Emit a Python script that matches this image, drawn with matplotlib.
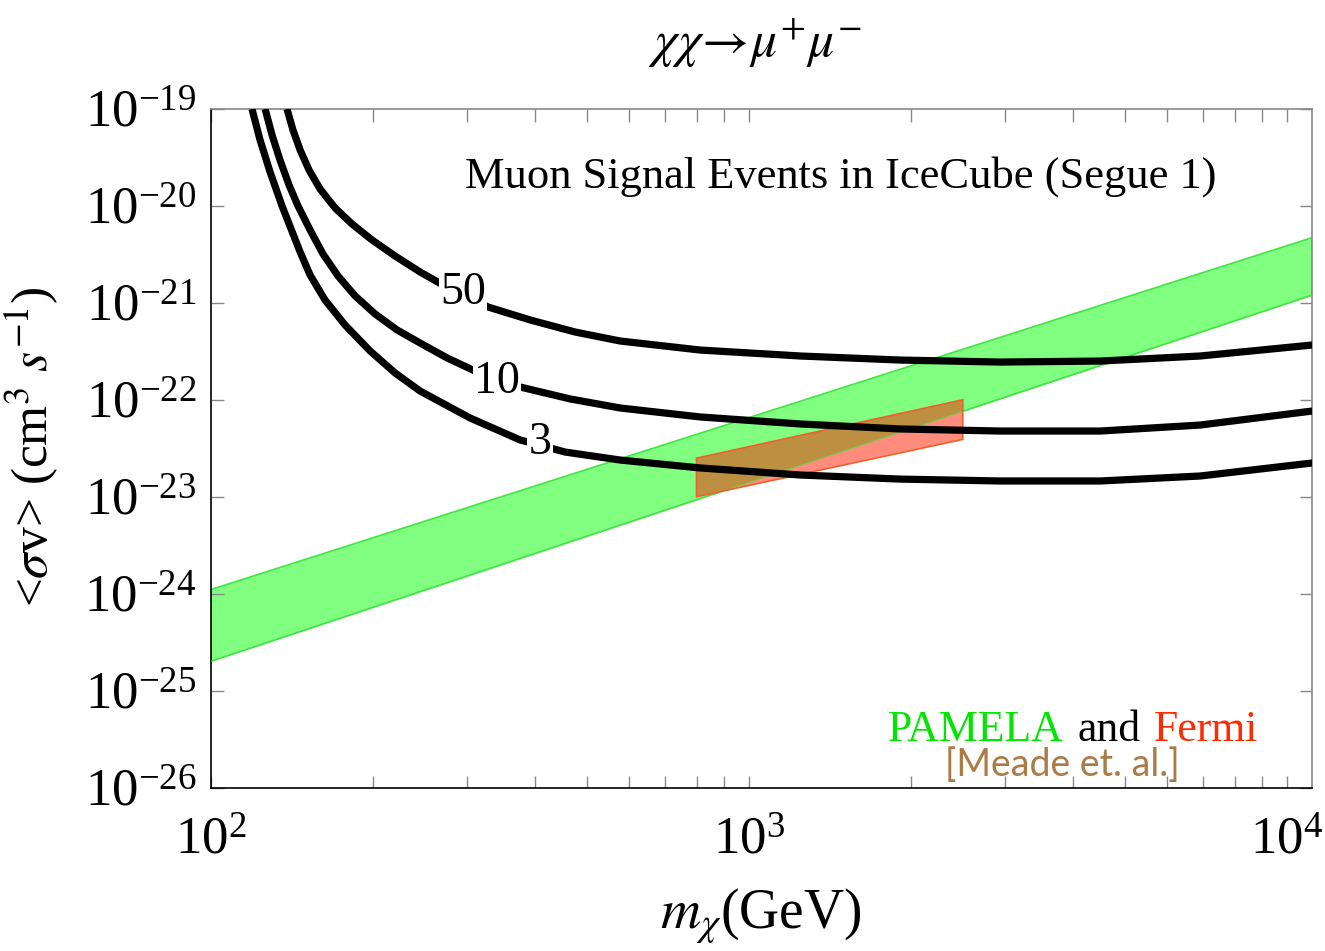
import numpy as np
import matplotlib.pyplot as plt
from matplotlib.offsetbox import TextArea, HPacker, AnchoredOffsetbox
from matplotlib.ticker import LogLocator, NullLocator, NullFormatter

plt.rcParams['font.family'] = ['Liberation Serif', 'DejaVu Serif']
plt.rcParams['mathtext.fontset'] = 'stix'

# PAMELA band (straight lines in log-log), edges at both ends of the x range
pamela_m = [100, 11140]
pamela_hi = [1.1e-24, 4.7e-21]
pamela_lo = [2.0e-25, 1.2e-21]

# Fermi region [Meade et al.]
fermi_m = [800, 2500]
fermi_hi = [2.5e-23, 1.0e-22]
fermi_lo = [1.0e-23, 3.9e-23]

# muon signal event contours
m_3 = [119.4, 123.6, 129.0, 135.8, 146.7, 153.1, 163.2, 177.8, 197.9, 220.3, 245.2,
       303.6, 376.1, 456.0, 577.0, 812.6, 1247, 1912, 2934, 4502, 6907, 11155]
sv_3 = [1e-19, 4.79e-20, 2.24e-20, 9.98e-21, 3.35e-21, 1.94e-21, 1.07e-21, 5.91e-22,
        3.19e-22, 1.89e-22, 1.23e-22, 6.49e-23, 3.85e-23, 2.89e-23, 2.39e-23, 1.98e-23,
        1.675e-23, 1.52e-23, 1.453e-23, 1.453e-23, 1.636e-23, 2.23e-23]

m_10 = [126.3, 130.1, 134.6, 139.9, 145.4, 153.1, 161.8, 172.6, 185.6, 202.2, 222.2,
        245.2, 275.2, 310.2, 376.1, 465.9, 577.0, 812.6, 1247, 1912, 2934, 4502, 6907,
        11155]
sv_10 = [1e-19, 5.39e-20, 2.98e-20, 1.644e-20, 9.98e-21, 5.65e-21, 3.19e-21, 1.89e-21,
         1.18e-21, 7.68e-22, 5.25e-22, 3.85e-22, 2.70e-22, 1.98e-22, 1.355e-22, 1.02e-22,
         8.23e-23, 6.65e-23, 5.63e-23, 5.0e-23, 4.76e-23, 4.76e-23, 5.49e-23, 7.66e-23]

m_50 = [138.7, 142.3, 146.7, 152.4, 159.8, 170.4, 183.2, 199.6, 220.3, 245.2, 278.7,
        328.0, 392.6, 476.0, 577.0, 812.6, 1247, 1912, 2934, 4502, 6907, 11155]
sv_50 = [1e-19, 6.07e-20, 3.78e-20, 2.35e-20, 1.495e-20, 9.52e-21, 6.51e-21, 4.45e-21,
         3.04e-21, 2.08e-21, 1.39e-21, 9.06e-22, 6.66e-22, 5.0e-22, 4.04e-22, 3.26e-22,
         2.83e-22, 2.57e-22, 2.45e-22, 2.51e-22, 2.83e-22, 3.675e-22]

curves = [(m_3, sv_3, '3', 409.8, 3.58e-23),
          (m_10, sv_10, '10', 340.8, 1.53e-22),
          (m_50, sv_50, '50', 294.6, 1.265e-21)]

# axis ticks
x_major = [1e2, 1e3, 1e4]
y_major = [1e-26, 1e-25, 1e-24, 1e-23, 1e-22, 1e-21, 1e-20, 1e-19]

GREEN_FILL = '#80FF80'
GREEN_EDGE = '#44E444'
RED_FILL = '#FF8C7C'
RED_EDGE = '#F0602C'
BROWN = '#BD8F41'

fig = plt.figure(figsize=(13.25, 9.51), dpi=100)
ax = fig.add_axes([0.1589, 0.1719, 0.8313, 0.7135])
ax.set_xscale('log')
ax.set_yscale('log')

# PAMELA band
px = np.concatenate([pamela_m, pamela_m[::-1]])
py = np.concatenate([pamela_lo, pamela_hi[::-1]])
green = ax.fill(px, py, facecolor=GREEN_FILL, edgecolor=GREEN_EDGE, lw=1.2, zorder=1)[0]

# Fermi region, and its overlap with PAMELA
fx = np.concatenate([fermi_m, fermi_m[::-1]])
fy = np.concatenate([fermi_lo, fermi_hi[::-1]])
ax.fill(fx, fy, facecolor=RED_FILL, edgecolor='none', zorder=2)
brown = ax.fill(fx, fy, facecolor=BROWN, edgecolor='none', zorder=3)[0]
brown.set_clip_path(green)
ax.plot(pamela_m, pamela_lo, color=GREEN_EDGE, lw=1.0, alpha=0.6, zorder=3.5)
ax.fill(fx, fy, facecolor='none', edgecolor=RED_EDGE, lw=1.2, zorder=4)

for m, sv, lab, lx, ly in curves:
    ax.plot(m, sv, color='black', lw=5.2, solid_capstyle='butt',
            solid_joinstyle='round', zorder=5)
    ax.text(lx, ly, lab, fontsize=33, ha='center', va='center', zorder=6,
            bbox=dict(facecolor='white', edgecolor='none', pad=1.0))

ax.set_xlim(100, 11140)
ax.set_ylim(1e-26, 1e-19)
ax.set_xticks(x_major)
ax.set_yticks(y_major)
ax.yaxis.set_minor_locator(NullLocator())
ax.xaxis.set_minor_locator(LogLocator(base=10, subs=np.arange(2, 10), numticks=20))
ax.xaxis.set_minor_formatter(NullFormatter())

ax.tick_params(which='both', direction='in', top=True, right=True, length=9,
               width=1.0, color='#888888', labelsize=38)
ax.tick_params(axis='x', pad=21)
ax.tick_params(axis='y', pad=10)
for side in ['top', 'right']:
    ax.spines[side].set_color('#888888')
for side in ['bottom', 'left']:
    ax.spines[side].set_color('black')
for sp in ax.spines.values():
    sp.set_linewidth(1.2)

ax.text(0.572, 0.9, 'Muon Signal Events in IceCube (Segue 1)', transform=ax.transAxes,
        fontsize=32, ha='center', va='center')

# PAMELA and Fermi legend text
parts = [TextArea('PAMELA', textprops=dict(color='#00E600', fontsize=31.5)),
         TextArea('and', textprops=dict(color='black', fontsize=31.5)),
         TextArea('Fermi', textprops=dict(color='#FF2A00', fontsize=31.5))]
box = AnchoredOffsetbox(loc='center', child=HPacker(children=parts, sep=10, pad=0),
                        bbox_to_anchor=(0.783, 0.085), bbox_transform=ax.transAxes,
                        frameon=False, pad=0, borderpad=0)
ax.add_artist(box)
ax.text(0.773, 0.033, '[Meade et. al.]', transform=ax.transAxes, fontsize=27,
        family='Lato', color='#AA7B45', ha='center', va='center')

fig.text(0.570, 0.955, r'$\chi\chi\!\rightarrow\!\mu^{+}\mu^{-}$', fontsize=37,
         ha='center', va='center')
fig.text(0.574, 0.036, r'$m_{\chi}$(GeV)', fontsize=40, ha='center', va='center')
fig.text(0.024, 0.530, r'<$\sigma$v> (cm$^3$ $s^{-1}$)', fontsize=37, ha='center',
         va='center', rotation=90)

fig.savefig('out.png', dpi=100)
